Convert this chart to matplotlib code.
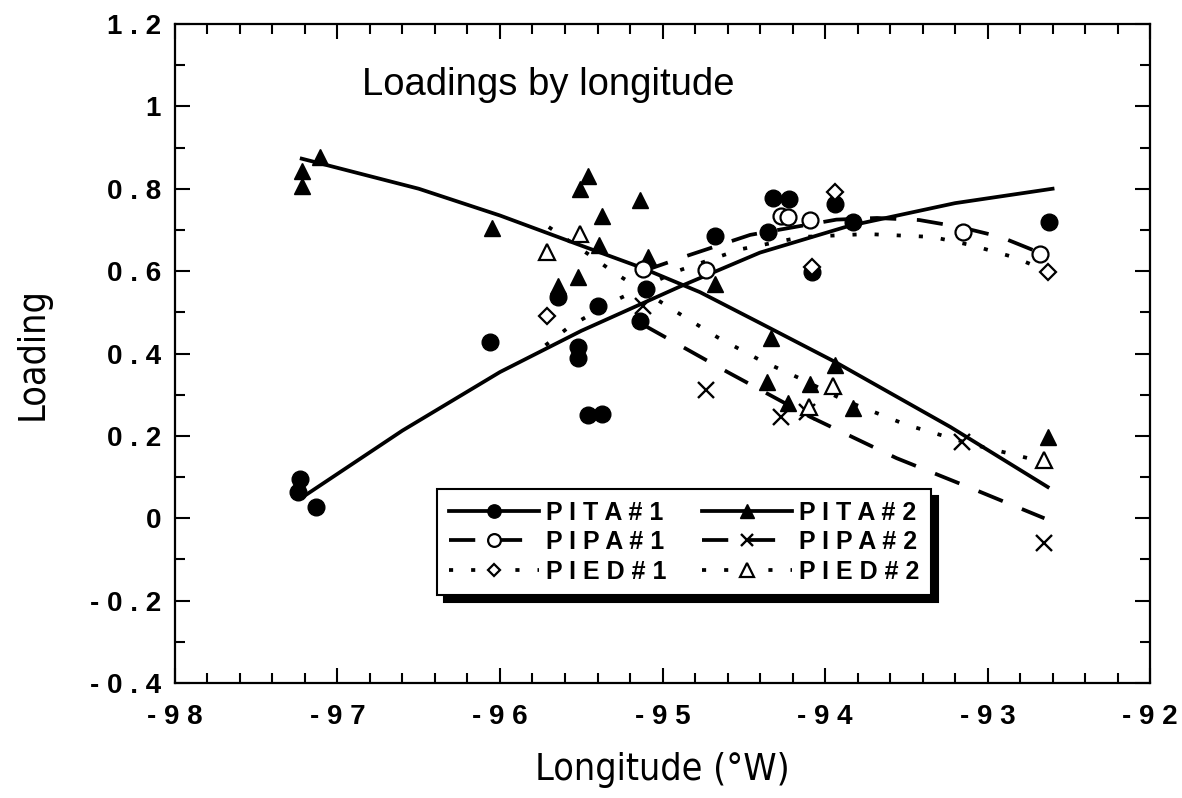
import matplotlib
matplotlib.use("Agg")
import matplotlib.pyplot as plt
from matplotlib.ticker import MultipleLocator, FuncFormatter

plt.rcParams['font.family'] = ['Liberation Sans', 'DejaVu Sans']

# loadings read per station (longitude, loading)
pita1_lon = [-97.24, -97.23, -97.13, -96.06, -95.64, -95.52, -95.52, -95.46, -95.40, -95.37,
             -95.14, -95.10, -94.68, -94.35, -94.32, -94.22, -94.08, -93.94, -93.83, -92.62]
pita1_load = [0.063, 0.095, 0.027, 0.428, 0.537, 0.415, 0.390, 0.250, 0.515, 0.254,
              0.478, 0.556, 0.685, 0.695, 0.778, 0.776, 0.598, 0.763, 0.720, 0.720]

pita2_lon = [-97.22, -97.22, -97.11, -96.05, -95.64, -95.52, -95.51, -95.46, -95.39, -95.37,
             -95.14, -95.09, -94.68, -94.36, -94.33, -94.23, -94.09, -93.94, -93.83, -92.63]
pita2_load = [0.844, 0.807, 0.878, 0.705, 0.563, 0.585, 0.800, 0.830, 0.663, 0.734,
              0.773, 0.634, 0.568, 0.330, 0.437, 0.280, 0.325, 0.373, 0.268, 0.198]

pipa1_lon = [-95.12, -94.73, -94.27, -94.23, -94.09, -93.15, -92.68]
pipa1_load = [0.605, 0.602, 0.734, 0.732, 0.724, 0.695, 0.641]

pipa2_lon = [-95.12, -94.73, -94.27, -94.11, -93.16, -92.65]
pipa2_load = [0.515, 0.312, 0.246, 0.258, 0.185, -0.060]

pied1_lon = [-95.71, -94.08, -93.94, -92.63]
pied1_load = [0.490, 0.610, 0.793, 0.598]

pied2_lon = [-95.71, -95.51, -94.10, -93.95, -92.65]
pied2_load = [0.646, 0.690, 0.270, 0.320, 0.141]

# fitted curves
pita1_fit_lon = [-97.22, -96.6, -96.0, -95.5, -94.89, -94.4, -93.85, -93.2, -92.6]
pita1_fit = [0.050, 0.213, 0.355, 0.455, 0.563, 0.645, 0.710, 0.765, 0.800]

pita2_fit_lon = [-97.22, -96.5, -96.0, -95.5, -95.14, -94.77, -94.4, -93.94, -93.23, -92.63]
pita2_fit = [0.873, 0.800, 0.735, 0.662, 0.610, 0.549, 0.474, 0.380, 0.222, 0.076]

pipa1_fit_lon = [-95.12, -94.85, -94.46, -93.93, -93.68, -93.42, -93.17, -92.92, -92.65]
pipa1_fit = [0.600, 0.637, 0.688, 0.725, 0.729, 0.724, 0.707, 0.683, 0.640]

pipa2_fit_lon = [-95.12, -94.6, -94.09, -93.56, -93.1, -92.65]
pipa2_fit = [0.470, 0.355, 0.246, 0.146, 0.073, 0.000]

pied1_fit_lon = [-95.72, -95.57, -95.3, -94.91, -94.52, -94.14, -93.74, -93.34, -93.1, -92.84, -92.63]
pied1_fit = [0.420, 0.466, 0.527, 0.600, 0.653, 0.683, 0.690, 0.683, 0.663, 0.634, 0.600]

pied2_fit_lon = [-95.70, -95.43, -95.3, -94.91, -94.66, -94.4, -94.14, -93.89, -93.5, -93.1, -92.70]
pied2_fit = [0.707, 0.634, 0.597, 0.500, 0.439, 0.384, 0.337, 0.288, 0.227, 0.180, 0.141]

names = ['PITA#1', 'PITA#2', 'PIPA#1', 'PIPA#2', 'PIED#1', 'PIED#2']


def spaced(s):
    return ' '.join(s)


fig = plt.figure(figsize=(11.82, 7.98), dpi=100)
ax = fig.add_axes([0.148, 0.144, 0.825, 0.826])

LW = 2.7
solid = '-'
dashed = (0, (7, 5.5))
dotted = (0, (1.1, 4.8))

series = [
    (pita1_lon, pita1_load, pita1_fit_lon, pita1_fit, solid, dict(marker='o', ms=12, mfc='k', mec='k')),
    (pita2_lon, pita2_load, pita2_fit_lon, pita2_fit, solid, dict(marker='^', ms=12, mfc='k', mec='k')),
    (pipa1_lon, pipa1_load, pipa1_fit_lon, pipa1_fit, dashed, dict(marker='o', ms=11.5, mfc='white', mec='k', mew=1.6)),
    (pipa2_lon, pipa2_load, pipa2_fit_lon, pipa2_fit, dashed, dict(marker='x', ms=11.5, mec='k', mew=1.7)),
    (pied1_lon, pied1_load, pied1_fit_lon, pied1_fit, dotted, dict(marker='D', ms=8, mfc='white', mec='k', mew=1.6)),
    (pied2_lon, pied2_load, pied2_fit_lon, pied2_fit, dotted, dict(marker='^', ms=12, mfc='white', mec='k', mew=1.6)),
]

handles = []
for lon, load, flon, fit, ls, mk in series:
    curve, = ax.plot(flon, fit, color='k', lw=LW, linestyle=ls, zorder=2)
    pts, = ax.plot(lon, load, linestyle='none', zorder=3, **mk)
    handles.append((curve, pts))

ax.set_xlim(-98, -92)
ax.set_ylim(-0.4, 1.2)
ax.xaxis.set_major_locator(MultipleLocator(1))
ax.xaxis.set_minor_locator(MultipleLocator(0.2))
ax.yaxis.set_major_locator(MultipleLocator(0.2))
ax.yaxis.set_minor_locator(MultipleLocator(0.1))
ax.xaxis.set_major_formatter(FuncFormatter(lambda v, p: spaced('%g' % round(v, 1))))
ax.yaxis.set_major_formatter(FuncFormatter(lambda v, p: spaced('%g' % round(v, 1))))
ax.tick_params(which='both', direction='in', top=True, right=True, width=1.5)
ax.tick_params(which='major', length=11, labelsize=20)
ax.tick_params(axis='x', which='major', pad=15)
ax.tick_params(axis='y', which='major', pad=10)
ax.tick_params(which='minor', length=7)
for lbl in ax.get_xticklabels() + ax.get_yticklabels():
    lbl.set_fontweight('bold')
for sp in ax.spines.values():
    sp.set_linewidth(1.6)

ax.set_xlabel('Longitude (\u00b0W)', fontsize=27, family='DejaVu Sans',
              fontstretch='condensed', labelpad=16)
ax.set_ylabel('Loading', fontsize=27, family='DejaVu Sans',
              fontstretch='condensed', labelpad=28)

ax.text(0.192, 0.907, 'Loadings by longitude', transform=ax.transAxes,
        fontsize=27.5, ha='left', va='center')

order = [0, 2, 4, 1, 3, 5]
leg = ax.legend([handles[i] for i in order], [spaced(names[i]) for i in order],
                ncol=2, loc='center', bbox_to_anchor=(0.522, 0.214),
                prop={'weight': 'bold', 'size': 18}, handlelength=3.6,
                handletextpad=0.3, columnspacing=1.4, labelspacing=0.22,
                markerscale=0.8, fancybox=False, edgecolor='k',
                framealpha=1, borderpad=0.45,
                shadow={'ox': 5, 'oy': -5, 'color': 'k', 'alpha': 1})
leg.get_frame().set_linewidth(1.5)

fig.savefig('out.png', dpi=100)
